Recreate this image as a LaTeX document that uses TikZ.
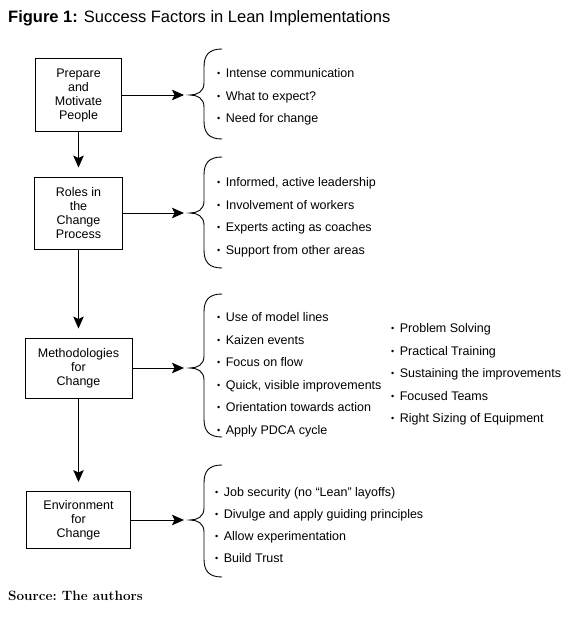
\documentclass[tikz,border=0pt]{standalone}
\usepackage{fontspec}
\newfontfamily\arial{Liberation Sans}
\usetikzlibrary{arrows.meta}
\newcommand\bl{\raisebox{0.8pt}{\fontsize{9}{9}\selectfont •}\hskip 5.5pt}
\begin{document}
\begin{tikzpicture}[x=1pt,y=-1pt,
  box/.style={draw, line width=0.9pt, align=center, font=\arial\fontsize{12.5}{14}\selectfont, inner sep=0pt},
  arr/.style={line width=0.9pt, -{Stealth[length=12pt,width=10.5pt,inset=2.5pt]}},
  brace/.style={line width=0.9pt},
  item/.style={anchor=base west, font=\arial\fontsize{12.5}{15}\selectfont, inner sep=0pt}]
\useasboundingbox (0,0) rectangle (573,621);
\node[anchor=base west, inner sep=0pt, font=\arial\fontsize{16.5}{20}\selectfont] (title) at (8,23) {\textbf{Figure 1:} Success Factors in Lean Implementations};
\node[box, minimum width=86pt, minimum height=73pt] (b1) at (78.5,95) {Prepare\\and\\Motivate\\People};
\node[box, minimum width=88pt, minimum height=72pt] (b2) at (78.5,213) {Roles in\\the\\Change\\Process};
\node[box, minimum width=107pt, minimum height=60pt] (b3) at (78.5,368) {Methodologies\\for\\Change};
\node[box, minimum width=104pt, minimum height=57pt] (b4) at (78.5,520) {Environment\\for\\Change};
\coordinate (t1) at (190,95);
\coordinate (t2) at (190,213);
\coordinate (t3) at (190,368);
\coordinate (t4) at (190,520);
\draw[arr, shorten >=6pt] (b1.east) -- (t1);
\draw[arr, shorten >=6pt] (b2.east) -- (t2);
\draw[arr, shorten >=6pt] (b3.east) -- (t3);
\draw[arr, shorten >=6pt] (b4.east) -- (t4);
\draw[arr, shorten >=9pt] (b1.south) -- (b2.north);
\draw[arr, shorten >=9pt] (b2.south) -- (b3.north);
\draw[arr, shorten >=9pt] (b3.south) -- (b4.north);
\foreach \yt/\ym/\yb in {49/95/139,157/213/268,294/368/437,465/520/577}
  \draw[brace] (222,\yt) .. controls (209,\yt) and (204,\yt+6) .. (204,\yt+18) -- (204,\ym-12) .. controls (204,\ym-3) and (197,\ym) .. (190,\ym) .. controls (197,\ym) and (204,\ym+3) .. (204,\ym+12) -- (204,\yb-18) .. controls (204,\yb-6) and (209,\yb) .. (222,\yb);
\foreach \t [count=\i] in {Intense communication, What to expect?, Need for change}
  \node[item] (pa\i) at (217,77.5+22.5*\i-22.5) {\bl\t};
\foreach \t [count=\i] in {{Informed, active leadership}, Involvement of workers, Experts acting as coaches, Support from other areas}
  \node[item] (pb\i) at (217,186.5+22.5*\i-22.5) {\bl\t};
\foreach \t [count=\i] in {Use of model lines, Kaizen events, Focus on flow, {Quick, visible improvements}, Orientation towards action, Apply PDCA cycle}
  \node[item] (pc\i) at (217,321.5+22.5*\i-22.5) {\bl\t};
\foreach \t [count=\i] in {Problem Solving, Practical Training, Sustaining the improvements, Focused Teams, Right Sizing of Equipment}
  \node[item] (pd\i) at (391,332.5+22.5*\i-22.5) {\bl\t};
\foreach \t [count=\i] in {Job security (no “Lean” layoffs), Divulge and apply guiding principles, Allow experimentation, Build Trust}
  \node[item] (pe\i) at (215,496+22*\i-22) {\bl\t};
\node[anchor=base west, inner sep=0pt, font=\bfseries\fontsize{13.5}{16}\selectfont] (src) at (8,600.7) {\frenchspacing Source: The authors};
\end{tikzpicture}
\end{document}
